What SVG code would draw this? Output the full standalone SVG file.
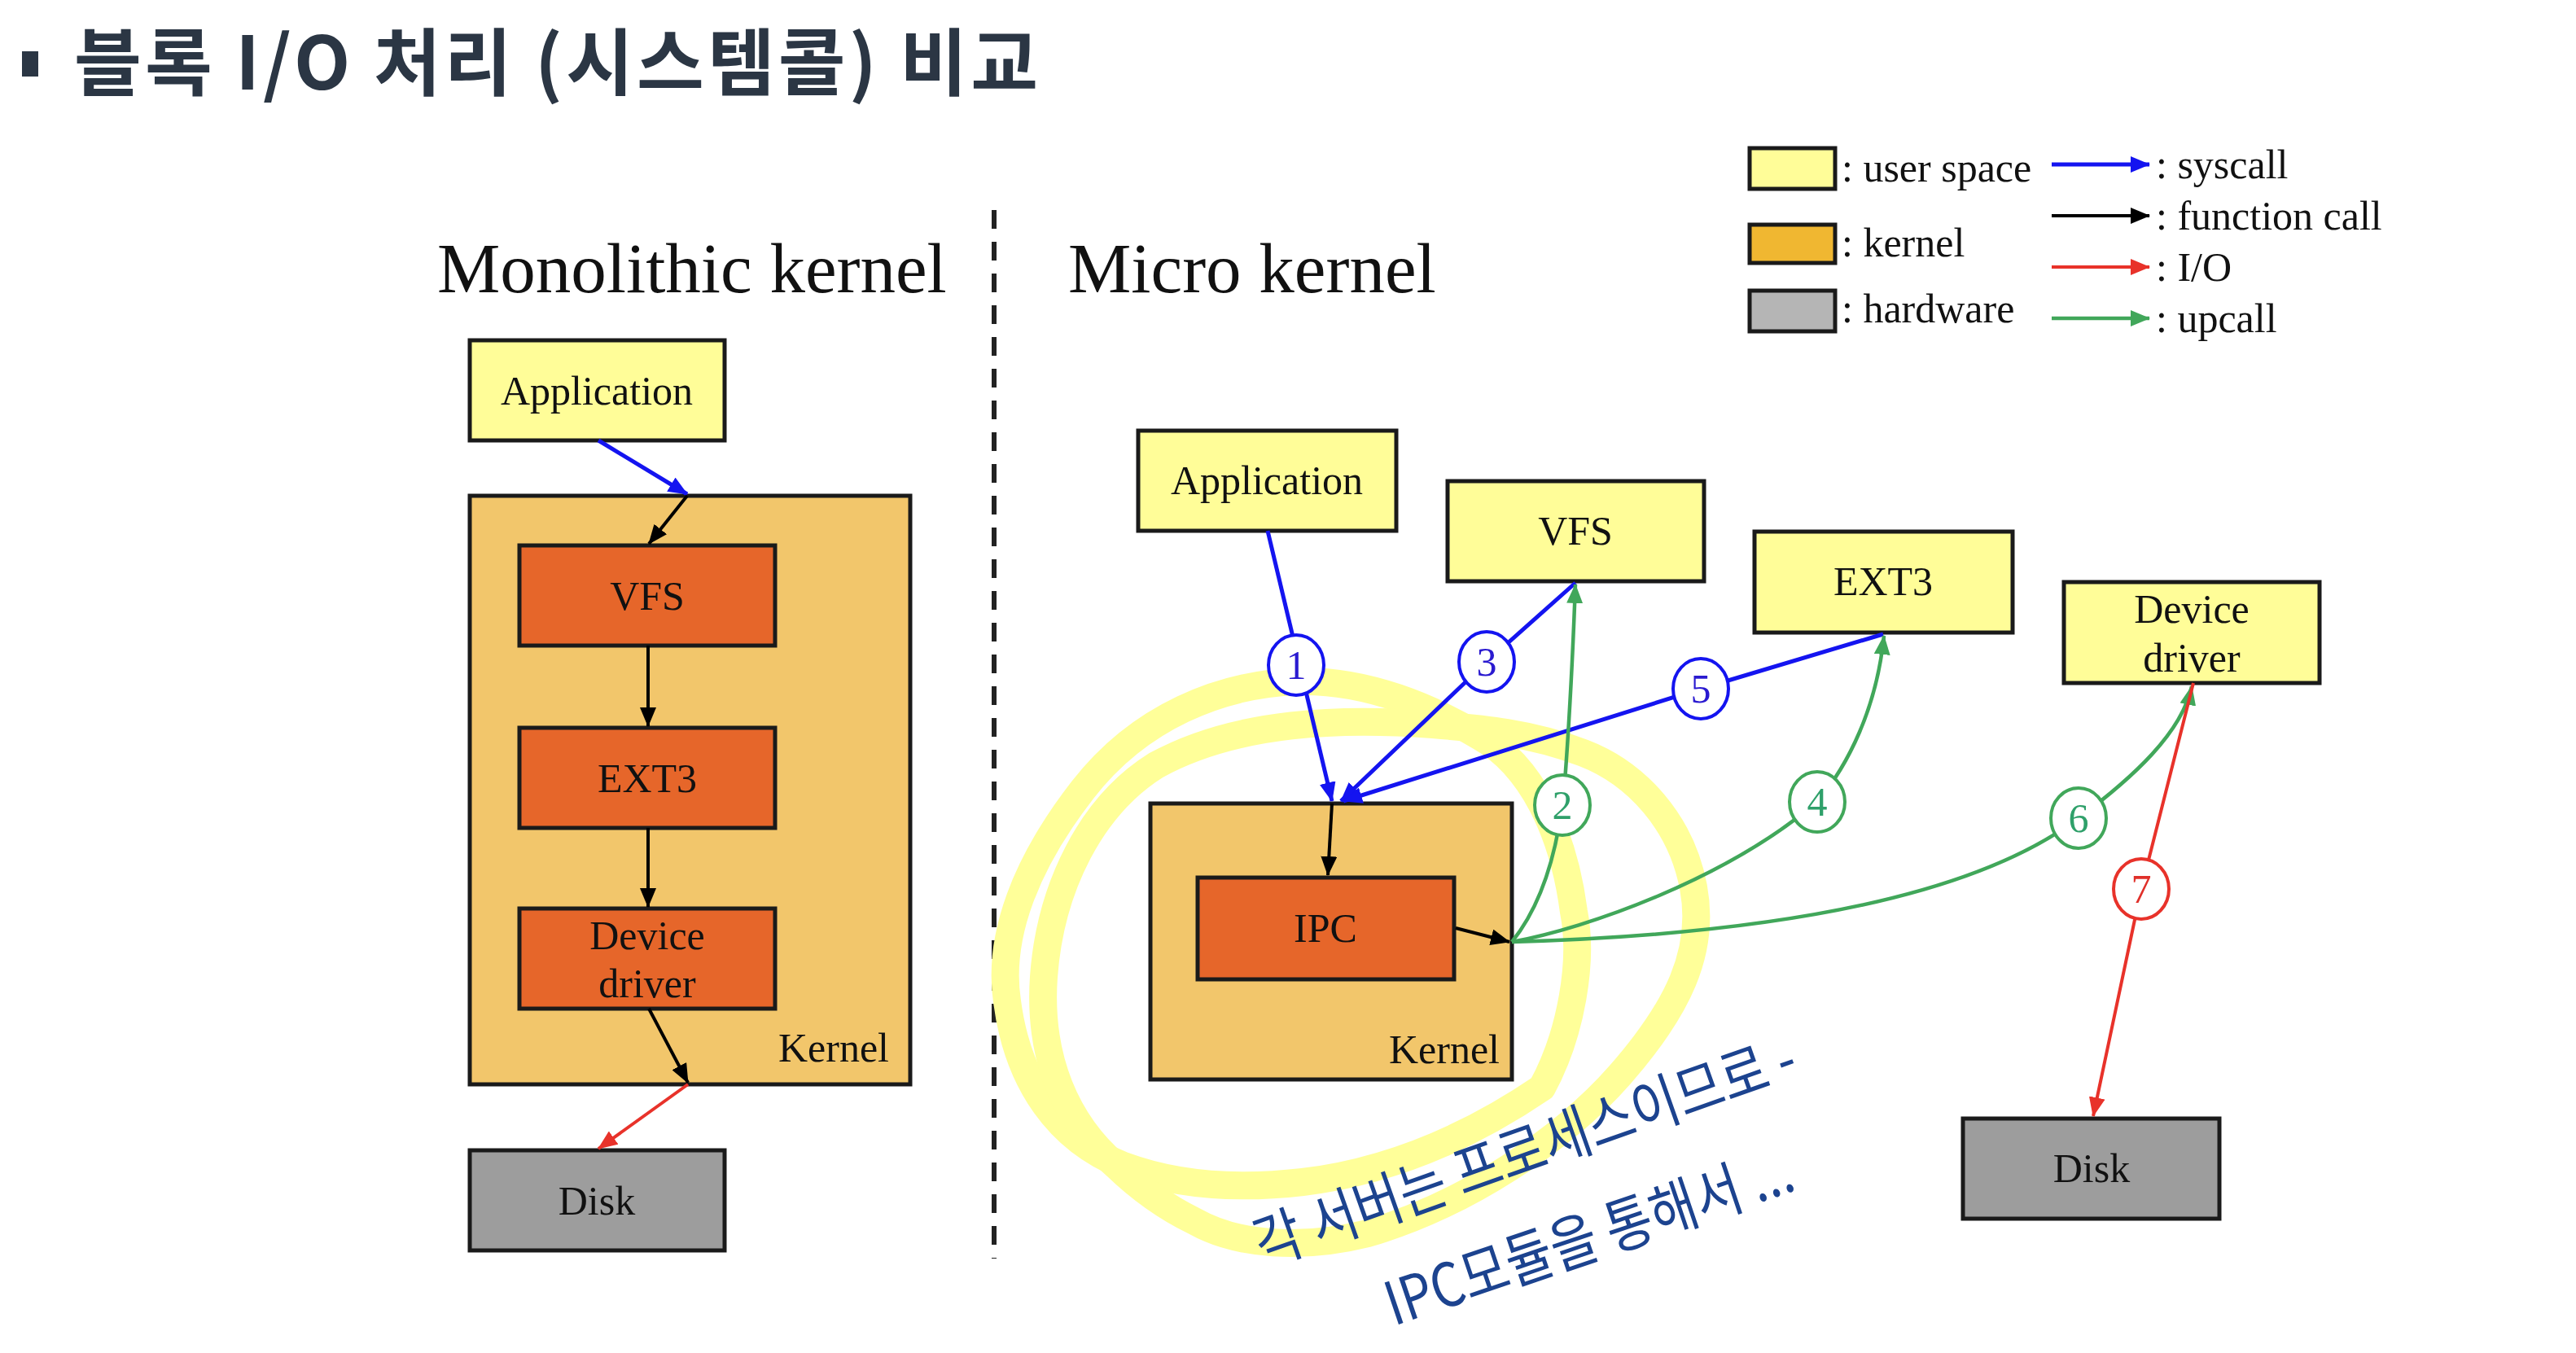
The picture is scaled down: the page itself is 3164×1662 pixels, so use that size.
<svg xmlns="http://www.w3.org/2000/svg" width="3164" height="1662" viewBox="0 0 3164 1662">
<style>
.t{font-family:"Liberation Serif","Times New Roman",serif;fill:#111;font-size:50px}
.h{font-family:"Liberation Serif","Times New Roman",serif;fill:#111;font-size:87px}
.box{stroke:#1a1a1a;stroke-width:5}
.us{fill:#fffd98}
.kn{fill:#f2c66b}
.or{fill:#e6662a}
.hw{fill:#9d9d9d}
.bl{stroke:#1414f0;stroke-width:5;fill:none}
.bk{stroke:#000;stroke-width:4;fill:none}
.rd{stroke:#e8322a;stroke-width:4;fill:none}
.gr{stroke:#41a75a;stroke-width:4.5;fill:none}
.num{font-family:"Liberation Serif","Times New Roman",serif;font-size:50px;text-anchor:middle}
.hand{font-family:"Noto Sans CJK KR","Noto Sans",sans-serif;font-size:74px;fill:#1c438f;font-weight:400}
.hl{fill:none;stroke:#ffff99;stroke-width:34;stroke-linecap:round;stroke-linejoin:round}
</style>
<defs>
<marker id="ab" viewBox="0 0 24 20" refX="23" refY="10" markerWidth="24" markerHeight="20" markerUnits="userSpaceOnUse" orient="auto"><path d="M0,0 L24,10 L0,20 z" fill="#1414f0"/></marker>
<marker id="ak" viewBox="0 0 24 20" refX="23" refY="10" markerWidth="24" markerHeight="20" markerUnits="userSpaceOnUse" orient="auto"><path d="M0,0 L24,10 L0,20 z" fill="#000"/></marker>
<marker id="ar" viewBox="0 0 24 20" refX="23" refY="10" markerWidth="24" markerHeight="20" markerUnits="userSpaceOnUse" orient="auto"><path d="M0,0 L24,10 L0,20 z" fill="#e8322a"/></marker>
<marker id="ag" viewBox="0 0 24 20" refX="23" refY="10" markerWidth="24" markerHeight="20" markerUnits="userSpaceOnUse" orient="auto"><path d="M0,0 L24,10 L0,20 z" fill="#41a75a"/></marker>
</defs>
<rect width="3164" height="1662" fill="#fff"/>

<g id="title">
<rect x="27" y="63" width="20" height="31" fill="#2b3644"/>
<text x="91" y="110" font-family="Noto Sans CJK KR,Noto Sans,sans-serif" font-size="90" font-weight="700" fill="#2b3644" textLength="1184">블록 I/O 처리 (시스템콜) 비교</text>
</g>

<line id="divider" x1="1221" y1="258" x2="1221" y2="1546" stroke="#222" stroke-width="6" stroke-dasharray="23 16"/>

<text class="h" x="537" y="359">Monolithic kernel</text>
<text class="h" x="1312" y="359">Micro kernel</text>

<g id="legend">
<rect class="box us" x="2149" y="182" width="105" height="50"/>
<text class="t" x="2262" y="223">: user space</text>
<rect class="box" fill="#f0b731" x="2149" y="276" width="105" height="47"/>
<text class="t" x="2262" y="315">: kernel</text>
<rect class="box" fill="#b5b5b5" x="2149" y="357" width="105" height="50"/>
<text class="t" x="2262" y="396">: hardware</text>
<line class="bl" x1="2520" y1="202" x2="2640" y2="202" marker-end="url(#ab)"/>
<text class="t" x="2648" y="219">: syscall</text>
<line class="bk" x1="2520" y1="265" x2="2640" y2="265" marker-end="url(#ak)"/>
<text class="t" x="2648" y="282">: function call</text>
<line class="rd" x1="2520" y1="328" x2="2640" y2="328" marker-end="url(#ar)"/>
<text class="t" x="2648" y="345">: I/O</text>
<line class="gr" x1="2520" y1="391" x2="2640" y2="391" marker-end="url(#ag)"/>
<text class="t" x="2648" y="408">: upcall</text>
</g>

<g id="highlighter">
<path class="hl" d="M1894,1336 C1930,1270 1945,1180 1933,1120 C1920,1020 1880,940 1818,905 C1760,870 1680,835 1595,837 C1500,840 1400,880 1330,970 C1260,1060 1225,1150 1237,1230 C1250,1330 1300,1400 1380,1432 C1450,1458 1530,1460 1600,1452 C1700,1440 1800,1400 1894,1336 Z"/>
<path class="hl" d="M1467,1500 C1520,1530 1600,1535 1680,1515 C1800,1480 1920,1400 1990,1320 C2060,1240 2095,1170 2080,1090 C2065,1010 2010,950 1945,925 C1880,900 1820,895 1760,890 C1650,882 1520,885 1420,940 C1340,990 1290,1090 1282,1200 C1275,1300 1310,1380 1371,1432 C1400,1460 1430,1482 1467,1500 Z"/>
</g>

<!-- Monolithic nodes -->
<g id="mono-app"><rect class="box us" x="577" y="418" width="313" height="123"/><text class="t" x="733" y="497" text-anchor="middle">Application</text></g>
<g id="mono-kernel"><rect class="box kn" x="577" y="609" width="541" height="723"/><text class="t" x="1092" y="1304" text-anchor="end">Kernel</text></g>
<g id="mono-vfs"><rect class="box or" x="638" y="670" width="314" height="123"/><text class="t" x="795" y="749" text-anchor="middle">VFS</text></g>
<g id="mono-ext3"><rect class="box or" x="638" y="894" width="314" height="123"/><text class="t" x="795" y="973" text-anchor="middle">EXT3</text></g>
<g id="mono-dd"><rect class="box or" x="638" y="1116" width="314" height="123"/><text class="t" x="795" y="1166" text-anchor="middle">Device</text><text class="t" x="795" y="1225" text-anchor="middle">driver</text></g>
<g id="mono-disk"><rect class="box hw" x="577" y="1413" width="313" height="123"/><text class="t" x="733" y="1492" text-anchor="middle">Disk</text></g>

<!-- Micro nodes -->
<g id="micro-app"><rect class="box us" x="1398" y="529" width="317" height="123"/><text class="t" x="1556" y="607" text-anchor="middle">Application</text></g>
<g id="micro-vfs"><rect class="box us" x="1778" y="591" width="315" height="123"/><text class="t" x="1935" y="669" text-anchor="middle">VFS</text></g>
<g id="micro-ext3"><rect class="box us" x="2155" y="653" width="317" height="124"/><text class="t" x="2313" y="731" text-anchor="middle">EXT3</text></g>
<g id="micro-dd"><rect class="box us" x="2535" y="715" width="314" height="124"/><text class="t" x="2692" y="765" text-anchor="middle">Device</text><text class="t" x="2692" y="825" text-anchor="middle">driver</text></g>
<g id="micro-kernel"><rect class="box kn" x="1413" y="987" width="444" height="339"/><text class="t" x="1842" y="1306" text-anchor="end">Kernel</text></g>
<g id="micro-ipc"><rect class="box or" x="1471" y="1078" width="315" height="125"/><text class="t" x="1628" y="1157" text-anchor="middle">IPC</text></g>
<g id="micro-disk"><rect class="box hw" x="2411" y="1374" width="315" height="123"/><text class="t" x="2569" y="1452" text-anchor="middle">Disk</text></g>

<g id="connectors">
<!-- monolithic -->
<path class="bl" d="M735,541 L844,607" marker-end="url(#ab)"/>
<path class="bk" d="M844,609 L797,668" marker-end="url(#ak)"/>
<path class="bk" d="M796,793 L796,892" marker-end="url(#ak)"/>
<path class="bk" d="M796,1017 L796,1114" marker-end="url(#ak)"/>
<path class="bk" d="M797,1239 L845,1330" marker-end="url(#ak)"/>
<path class="rd" d="M845,1332 L735,1411" marker-end="url(#ar)"/>
<!-- micro -->
<path class="bl" d="M1557,652 L1636,984" marker-end="url(#ab)"/>
<path class="bl" d="M1935,716 L1826,813 L1647,984" marker-end="url(#ab)"/>
<path class="bl" d="M2313,779 L2089,846 L1650,984" marker-end="url(#ab)"/>
<path class="bk" d="M1636,987 L1631,1075" marker-end="url(#ak)"/>
<path class="bk" d="M1788,1140 L1854,1157" marker-end="url(#ak)"/>
<path class="gr" d="M1857,1157 C1895,1110 1915,1040 1922,960 C1928,880 1932,800 1935,718" marker-end="url(#ag)"/>
<path class="gr" d="M1857,1157 C1950,1140 2120,1080 2232,985 C2270,940 2305,870 2314,781" marker-end="url(#ag)"/>
<path class="gr" d="M1857,1157 C2100,1150 2400,1120 2553,1005 C2620,955 2680,900 2692,843" marker-end="url(#ag)"/>
<path class="rd" d="M2694,839 L2630,1092 L2571,1371" marker-end="url(#ar)"/>
<g id="labels" stroke-width="4" fill="#fff">
<ellipse cx="1592" cy="817" rx="34" ry="37" stroke="#1414f0"/><text class="num" x="1592" y="834" fill="#2a1ad0">1</text>
<ellipse cx="1826" cy="813" rx="34" ry="37" stroke="#1414f0"/><text class="num" x="1826" y="830" fill="#2a1ad0">3</text>
<ellipse cx="2089" cy="846" rx="34" ry="37" stroke="#1414f0"/><text class="num" x="2089" y="863" fill="#2a1ad0">5</text>
<ellipse cx="1919" cy="989" rx="34" ry="37" stroke="#41a75a"/><text class="num" x="1919" y="1006" fill="#2fa06a">2</text>
<ellipse cx="2232" cy="985" rx="34" ry="37" stroke="#41a75a"/><text class="num" x="2232" y="1002" fill="#2fa06a">4</text>
<ellipse cx="2553" cy="1005" rx="34" ry="37" stroke="#41a75a"/><text class="num" x="2553" y="1022" fill="#2fa06a">6</text>
<ellipse cx="2630" cy="1092" rx="34" ry="37" stroke="#e8322a"/><text class="num" x="2630" y="1109" fill="#e0302a">7</text>
</g>
</g>

<g id="handwriting">
<text class="hand" x="1552" y="1556" transform="rotate(-19.5 1552 1556)" textLength="700" lengthAdjust="spacingAndGlyphs">각 서버는 프로세스이므로 -</text>
<text class="hand" x="1712" y="1629" transform="rotate(-18.7 1712 1629)" textLength="524" lengthAdjust="spacingAndGlyphs">IPC모듈을 통해서 ...</text>
</g>
</svg>
